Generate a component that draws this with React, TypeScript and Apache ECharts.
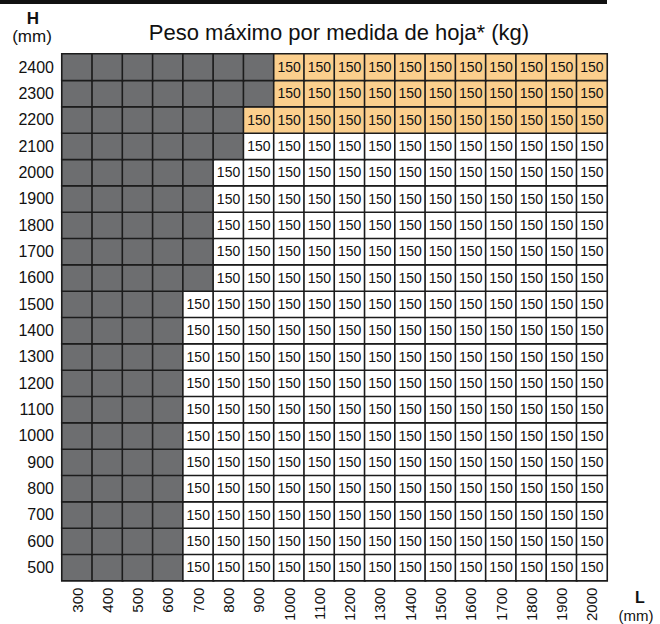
import React, { useEffect, useRef } from "react";
import * as echarts from "echarts";

const L_VALUES = ["300", "400", "500", "600", "700", "800", "900", "1000", "1100", "1200", "1300", "1400", "1500", "1600", "1700", "1800", "1900", "2000"];
const H_VALUES = ["500", "600", "700", "800", "900", "1000", "1100", "1200", "1300", "1400", "1500", "1600", "1700", "1800", "1900", "2000", "2100", "2200", "2300", "2400"];
// smallest available width (L) for each height (H), bottom to top
const MIN_L_BY_H = [700, 700, 700, 700, 700, 700, 700, 700, 700, 700, 700, 800, 800, 800, 800, 800, 900, 900, 1000, 1000];
const HIGHLIGHT_H = ["2200", "2300", "2400"];
const MAX_WEIGHT = 150;

const GRAY = "#6d6e70";
const ORANGE = "#fbcf8d";
const WHITE = "#ffffff";
const FONT = "'Liberation Sans', Arial, sans-serif";

export default function App() {
  const ref = useRef<HTMLDivElement>(null);
  useEffect(() => {
    if (!ref.current) return;
    const chart = echarts.init(ref.current, undefined, { renderer: "svg" });
    const data: any[] = [];
    H_VALUES.forEach((h, i) => {
      L_VALUES.forEach((l, j) => {
        const ok = Number(l) >= MIN_L_BY_H[i];
        const hi = HIGHLIGHT_H.includes(h);
        const code = ok ? (hi ? 2 : 1) : 0;
        data.push({
          value: [j, i, ok ? MAX_WEIGHT : 0, code],
          label: { show: ok },
        });
      });
    });
    chart.setOption({
      animation: false,
      grid: { left: 62, right: 53, top: 54, bottom: 40 },
      visualMap: {
        type: "piecewise",
        show: false,
        dimension: 3,
        pieces: [
          { value: 0, color: GRAY },
          { value: 1, color: WHITE },
          { value: 2, color: ORANGE },
        ],
      },
      xAxis: {
        type: "category",
        data: L_VALUES,
        axisLine: { show: false },
        axisTick: { show: false },
        splitArea: { show: false },
        axisLabel: { rotate: 90, fontSize: 15, color: "#111", fontFamily: FONT, margin: 7 },
      },
      yAxis: {
        type: "category",
        data: H_VALUES,
        axisLine: { show: false },
        axisTick: { show: false },
        splitArea: { show: false },
        axisLabel: { fontSize: 16, color: "#111", fontFamily: FONT, margin: 8 },
      },
      series: [
        {
          type: "heatmap",
          data,
          itemStyle: { borderColor: "#1c1c1c", borderWidth: 1.6 },
          label: {
            show: true,
            color: "#111",
            fontSize: 14,
            fontFamily: FONT,
            formatter: (p: any) => String(p.value[2]),
          },
          emphasis: { disabled: true },
        },
      ],
      graphic: [
        { type: "rect", shape: { x: 0, y: 0, width: 607, height: 4 }, style: { fill: "#111" } },
        {
          type: "text",
          x: 339,
          y: 32,
          style: { text: "Peso máximo por medida de hoja* (kg)", fontSize: 22, fontFamily: FONT, fill: "#111", align: "center", verticalAlign: "middle" },
        },
        { type: "text", x: 33, y: 18, style: { text: "H", fontSize: 17, fontWeight: "bold", fontFamily: FONT, fill: "#111", align: "center", verticalAlign: "middle" } },
        { type: "text", x: 32, y: 36, style: { text: "(mm)", fontSize: 17, fontFamily: FONT, fill: "#111", align: "center", verticalAlign: "middle" } },
        { type: "text", x: 640, y: 597, style: { text: "L", fontSize: 16, fontWeight: "bold", fontFamily: FONT, fill: "#111", align: "center", verticalAlign: "middle" } },
        { type: "text", x: 636, y: 615, style: { text: "(mm)", fontSize: 15, fontFamily: FONT, fill: "#111", align: "center", verticalAlign: "middle" } },
      ],
    });
    return () => chart.dispose();
  }, []);
  return <div ref={ref} style={{ position: "fixed", left: 0, top: 0, width: 660, height: 624, background: "#fff" }} />;
}
